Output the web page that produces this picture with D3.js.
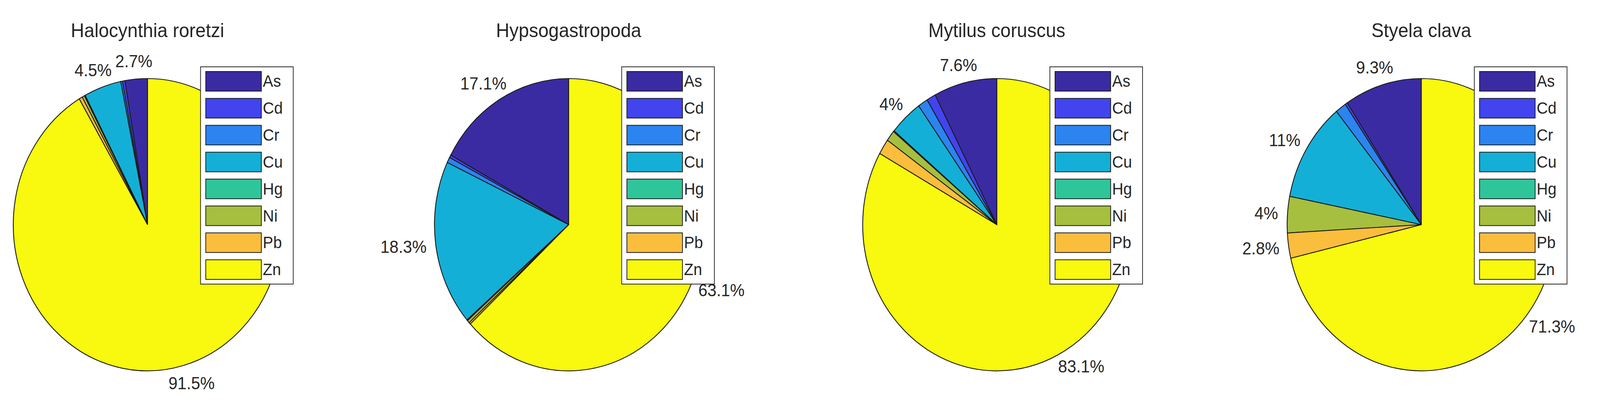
<!DOCTYPE html>
<html><head><meta charset="utf-8">
<script src="https://cdn.jsdelivr.net/npm/d3@7"></script>
<style>html,body{margin:0;padding:0;background:#fff;overflow:hidden}svg{display:block;width:100vw;height:100vh}text{font-family:"Liberation Sans",Arial,sans-serif;fill:#262626}</style>
</head><body>
<svg id="c" viewBox="0 0 4316 1039" preserveAspectRatio="none"></svg>
<script>
const metals = ["As","Cd","Cr","Cu","Hg","Ni","Pb","Zn"];
const colors = ["#3b2ba2","#4244ee","#2b84f0","#14afd6","#2fc59b","#a6bf3e","#fbbd3c","#f8f90e"];
const titles = ["Halocynthia roretzi","Hypsogastropoda","Mytilus coruscus","Styela clava"];
const halocynthia = [2.7,0.3,0.2,4.5,0.1,0.3,0.4,91.5];
const hypsogastropoda = [17.1,0.3,0.6,18.3,0.1,0.3,0.2,63.1];
const mytilus = [7.6,1.1,1.2,4.0,0.1,1.2,1.7,83.1];
const styela = [9.3,0.3,1.3,11.0,0.0,4.0,2.8,71.3];
const labels = [
  ["2.7%",null,null,"4.5%",null,null,null,"91.5%"],
  ["17.1%",null,null,"18.3%",null,null,null,"63.1%"],
  ["7.6%",null,null,"4%",null,null,null,"83.1%"],
  ["9.3%",null,null,"11%",null,"4%","2.8%","71.3%"]
];
const series = [halocynthia,hypsogastropoda,mytilus,styela];
const centersX = [398,1534,2689,3834];
const cy = 575, rx = 362, ry = 374;

const svg = d3.select("#c");
const pie = d3.pie().sort(null).startAngle(0).endAngle(-2*Math.PI);
const arc = d3.arc().innerRadius(0).outerRadius(1);

series.forEach((vals,i)=>{
  const g = svg.append("g");
  const cx = centersX[i];
  g.append("text").attr("x",cx).attr("y",95).attr("text-anchor","middle")
    .attr("font-size",50).text(titles[i]);
  const arcs = pie(vals);
  const pg = g.append("g").attr("transform",`translate(${cx},${cy}) scale(${rx},${ry})`);
  pg.selectAll("path").data(arcs).enter().append("path")
    .attr("d",arc).attr("fill",(d,j)=>colors[j])
    .attr("stroke","#1a1a1a").attr("stroke-width",2.2).attr("vector-effect","non-scaling-stroke");
  arcs.forEach((a,j)=>{
    const lab = labels[i][j]; if(!lab) return;
    const m = (a.startAngle+a.endAngle)/2;
    const ux = Math.sin(m), uy = -Math.cos(m);
    const px = cx + 1.07*rx*ux, py = cy + 1.07*ry*uy;
    const t = g.append("text").attr("font-size",44).text(lab);
    const w = t.node().getComputedTextLength(), h = 40;
    t.attr("x",px + ux*w/2).attr("y",py + uy*h/2).attr("text-anchor","middle").attr("dominant-baseline","central");
  });
  const lx = cx+143, ly = 171, lw = 250, lh = 556;
  const lg = g.append("g");
  lg.append("rect").attr("x",lx).attr("y",ly).attr("width",lw).attr("height",lh)
    .attr("fill","#fff").attr("stroke","#262626").attr("stroke-width",2);
  const ys = d3.scaleBand().domain(metals).range([ly+12,ly+lh-12]).paddingInner(0.27);
  metals.forEach((m,j)=>{
    lg.append("rect").attr("x",lx+14).attr("y",ys(m)).attr("width",150).attr("height",ys.bandwidth())
      .attr("fill",colors[j]).attr("stroke","#1a1a1a").attr("stroke-width",2);
    lg.append("text").attr("x",lx+168).attr("y",ys(m)+ys.bandwidth()/2)
      .attr("dominant-baseline","central").attr("font-size",42).text(m);
  });
});
</script>
</body></html>
